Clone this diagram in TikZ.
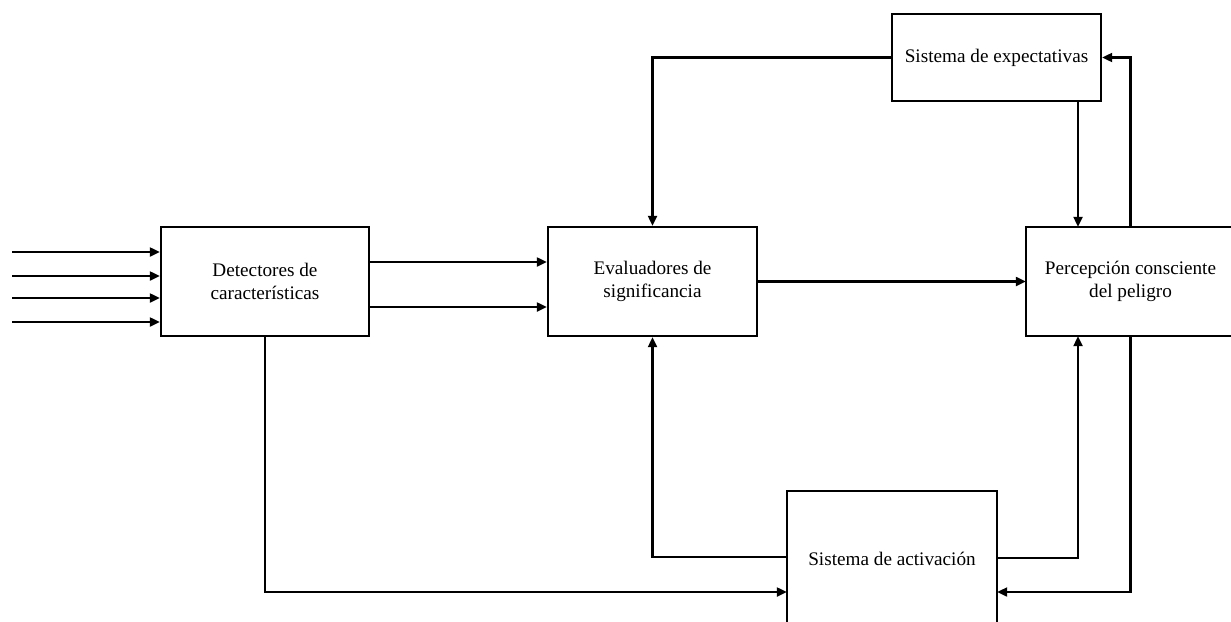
\documentclass[tikz,border=0pt]{standalone}
\usepackage{fontspec}
\setmainfont{Liberation Serif}
\usetikzlibrary{arrows.meta}
\begin{document}
\begin{tikzpicture}[x=1pt,y=-1pt,
  blk/.style={draw=black, line width=2.4pt, fill=white, rectangle, align=center,
    inner sep=0pt, font=\fontsize{19.2}{23}\selectfont},
  openblk/.style={fill=white, rectangle, align=center,
    inner sep=0pt, font=\fontsize{19.2}{23}\selectfont},
  edge3/.style={draw=black, line width=2.4pt, line join=miter},
  arr/.style={draw=black, line width=2.2pt, -{Triangle[length=10pt,width=9pt]}}]
\useasboundingbox (0,0) rectangle (1231,621);
\fill[white] (-30,-30) rectangle (1261,651);

\node[blk, minimum width=208pt, minimum height=109pt] (det) at (265,281.5) {Detectores de\\características};
\node[blk, minimum width=209pt, minimum height=109pt] (eva) at (652.5,281.5) {Evaluadores de\\significancia};
\node[openblk, minimum width=209pt, minimum height=109pt] (per) at (1130.5,281.5) {Percepción consciente\\del peligro};
\draw[edge3] ([xshift=40pt]per.north east) -- (per.north west) -- (per.south west) -- ([xshift=40pt]per.south east);
\node[blk, minimum width=209pt, minimum height=87pt] (exp) at (996.5,57.5) {Sistema de expectativas};
\node[openblk, minimum width=210pt, minimum height=136pt] (act) at (892,559) {Sistema de activación};
\draw[edge3] ([yshift=-30pt]act.south west) -- (act.north west) -- (act.north east) -- ([yshift=-30pt]act.south east);

% inputs
\coordinate (i1) at (12,252);
\coordinate (i2) at (12,276);
\coordinate (i3) at (12,298);
\coordinate (i4) at (12,322);
\draw[arr] (i1) -- (i1 -| det.west);
\draw[arr] (i2) -- (i2 -| det.west);
\draw[arr] (i3) -- (i3 -| det.west);
\draw[arr] (i4) -- (i4 -| det.west);

% det -> eva
\draw[arr] ([yshift=19.5pt]det.east) -- ([yshift=19.5pt]eva.west);
\draw[arr] ([yshift=-25.5pt]det.east) -- ([yshift=-25.5pt]eva.west);

% eva -> per
\draw[arr] (eva.east) -- (per.west);

% exp -> eva
\draw[arr] (exp.west) -| (eva.north);

% exp -> per
\draw[arr] ([xshift=81.5pt]exp.south) -- ([xshift=-52.5pt]per.north);

% per -> exp
\draw[arr] (per.north) |- (exp.east);

% det -> act
\draw[arr] (det.south) |- ([yshift=-33pt]act.west);

% act -> eva
\draw[arr] ([yshift=2pt]act.west) -| (eva.south);

% act -> per
\draw[arr] ([yshift=1pt]act.east) -| ([xshift=-52.5pt]per.south);

% per -> act
\draw[arr] (per.south) |- ([yshift=-33pt]act.east);
\end{tikzpicture}
\end{document}
